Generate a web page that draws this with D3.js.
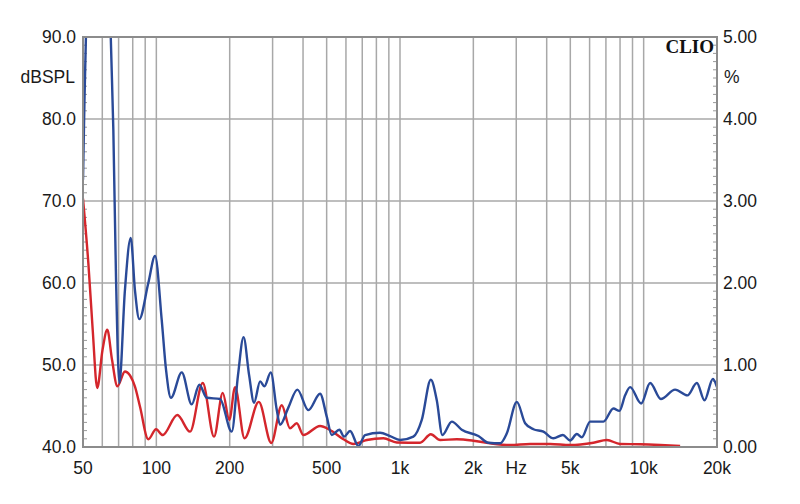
<!DOCTYPE html>
<html><head><meta charset="utf-8">
<script src="https://cdn.jsdelivr.net/npm/d3@7"></script>
<style>body{margin:0;background:#fff}svg{display:block}</style>
</head><body>
<script>
const xTickValues = [50,100,200,500,1000,2000,3000,5000,10000,20000];
const xTickLabels = ["50","100","200","500","1k","2k","Hz","5k","10k","20k"];
const leftTicks = [40,50,60,70,80,90];
const rightTicks = [0,1,2,3,4,5];

const blueFreq = [50,50.7,51.4,53.4,63.4,65.0,66.6,68.3,70.5,74.3,78.5,81.7,85.1,92.7,98.8,105.2,109.6,114.8,127.1,139.7,150.1,161.0,182.5,203.9,216.4,228.0,240.2,251.8,266.6,277.6,294.9,312.1,321.9,348.1,379.0,420.6,469.8,500.5,524.6,563.8,589.5,624.0,674.9,719.1,828.3,910.4,1000.6,1134.8,1228.5,1337.9,1415.6,1492.6,1631.3,1792.5,2097.7,2305.9,2575.4,2744.8,3016.8,3262.6,3528.6,3879,4262.4,4658.4,4991,5316.7,5575.8,6030,6838,7515,7953,8395,8800,9763,10633,11764,13466,15125,16534,17770,19236,20000];
const blueVal = [3.26,4.23,5.0,6.5,6.5,5.0,3.87,2.07,0.78,1.91,2.55,1.91,1.56,2.0,2.33,1.55,0.94,0.60,0.91,0.52,0.76,0.60,0.585,0.187,0.88,1.34,0.88,0.54,0.80,0.74,0.91,0.45,0.27,0.48,0.70,0.45,0.65,0.37,0.146,0.21,0.126,0.195,0.012,0.146,0.174,0.134,0.085,0.126,0.33,0.82,0.57,0.146,0.31,0.21,0.134,0.052,0.045,0.167,0.55,0.29,0.216,0.187,0.106,0.146,0.08,0.159,0.118,0.31,0.31,0.47,0.44,0.63,0.73,0.53,0.78,0.585,0.70,0.63,0.78,0.57,0.83,0.73];

const redFreq = [50,52.6,54.8,57.2,60.1,62.9,65.8,69.2,74.3,81.7,85.7,92.7,99.7,106.2,121.9,137.5,155.0,172.5,187.3,199.3,210.4,230.1,263.3,296.3,327.1,353.7,377.0,401.1,469.8,516.2,585.8,643.8,730.8,854.6,970.5,1208.9,1337.9,1461,1710,2000,2343,2831,3419,4132,4991,6220,7061,8004,9671,11685,14115];
const redVal = [3.03,2.24,1.43,0.72,1.18,1.43,1.06,0.74,0.92,0.735,0.49,0.094,0.216,0.146,0.39,0.187,0.78,0.126,0.66,0.33,0.73,0.106,0.55,0.049,0.51,0.228,0.29,0.146,0.256,0.207,0.094,0.037,0.085,0.106,0.055,0.052,0.155,0.085,0.094,0.077,0.045,0.024,0.037,0.037,0.024,0.052,0.085,0.037,0.033,0.024,0.012];

const W = 800, H = 504;
const L = 83, R = 717, T = 37, B = 447;
const svg = d3.select("body").append("svg").attr("width", W).attr("height", H);

const x = d3.scaleLog().domain([50,20000]).range([L,R]);
const yL = d3.scaleLinear().domain([40,90]).range([B,T]);
const yR = d3.scaleLinear().domain([0,5]).range([B,T]);

const font = "Liberation Sans, Arial, sans-serif";
const grid = "#a8a8a8";

// vertical grid
const vg = [];
[10,100,1000,10000].forEach(dec => { for (let m=1;m<=9;m++){ const v=m*dec; if (v>50 && v<20000) vg.push(v);} });
svg.append("g").selectAll("line").data(vg).join("line")
  .attr("x1", d=>x(d)).attr("x2", d=>x(d)).attr("y1",T).attr("y2",B)
  .attr("stroke", grid).attr("stroke-width",1.5);
// horizontal grid
svg.append("g").selectAll("line").data(leftTicks.slice(1,-1)).join("line")
  .attr("x1",L).attr("x2",R).attr("y1",d=>yL(d)).attr("y2",d=>yL(d))
  .attr("stroke", grid).attr("stroke-width",1.5);

// minor ticks left (1 dB) and right (0.1 %)
const minorL = d3.range(41,90).filter(v=>v%10!==0);
svg.append("g").selectAll("line").data(minorL).join("line")
  .attr("x1",L).attr("x2",L+4).attr("y1",d=>yL(d)).attr("y2",d=>yL(d))
  .attr("stroke","#9a9a9a").attr("stroke-width",1);
const minorR = d3.range(1,50).filter(v=>v%10!==0).map(v=>v/10);
svg.append("g").selectAll("line").data(minorR).join("line")
  .attr("x1",R-4).attr("x2",R).attr("y1",d=>yR(d)).attr("y2",d=>yR(d))
  .attr("stroke","#9a9a9a").attr("stroke-width",1);

// curves
svg.append("clipPath").attr("id","clip").append("rect").attr("x",L).attr("y",T).attr("width",R-L).attr("height",B-T);
const line = d3.line().x(d=>x(d[0])).y(d=>yR(d[1])).curve(d3.curveMonotoneX);
const g = svg.append("g").attr("clip-path","url(#clip)");
g.append("path").attr("d", line(redFreq.map((f,i)=>[f,redVal[i]])))
  .attr("fill","none").attr("stroke","#d4262c").attr("stroke-width",2.4).attr("stroke-linejoin","round");
g.append("path").attr("d", line(blueFreq.map((f,i)=>[f,blueVal[i]])))
  .attr("fill","none").attr("stroke","#2a4a98").attr("stroke-width",2.4).attr("stroke-linejoin","round");

// frame
svg.append("rect").attr("x",L).attr("y",T).attr("width",R-L).attr("height",B-T)
  .attr("fill","none").attr("stroke","#8c8c8c").attr("stroke-width",2);

// labels
svg.append("g").selectAll("text").data(leftTicks).join("text")
  .attr("x",76).attr("y",d=>yL(d)+1.5).attr("text-anchor","end").attr("dominant-baseline","middle")
  .attr("font-family",font).attr("font-size",17.5).attr("fill","#1a1a1a").text(d=>d.toFixed(1));
svg.append("g").selectAll("text").data(rightTicks).join("text")
  .attr("x",723).attr("y",d=>yR(d)+1.5).attr("text-anchor","start").attr("dominant-baseline","middle")
  .attr("font-family",font).attr("font-size",17.5).attr("fill","#1a1a1a").text(d=>d.toFixed(2));
svg.append("g").selectAll("text").data(xTickValues).join("text")
  .attr("x",d=>x(d)).attr("y",474).attr("text-anchor","middle")
  .attr("font-family",font).attr("font-size",17.5).attr("fill","#1a1a1a").text((d,i)=>xTickLabels[i]);
svg.append("text").attr("x",75).attr("y",78).attr("text-anchor","end").attr("dominant-baseline","middle")
  .attr("font-family",font).attr("font-size",17.5).attr("fill","#1a1a1a").text("dBSPL");
svg.append("text").attr("x",724).attr("y",78).attr("text-anchor","start").attr("dominant-baseline","middle")
  .attr("font-family",font).attr("font-size",17.5).attr("fill","#1a1a1a").text("%");
svg.append("text").attr("x",714).attr("y",53).attr("text-anchor","end")
  .attr("font-family","Liberation Serif, Times New Roman, serif").attr("font-weight","bold").attr("font-size",19).attr("fill","#111").text("CLIO");
</script>
</body></html>
